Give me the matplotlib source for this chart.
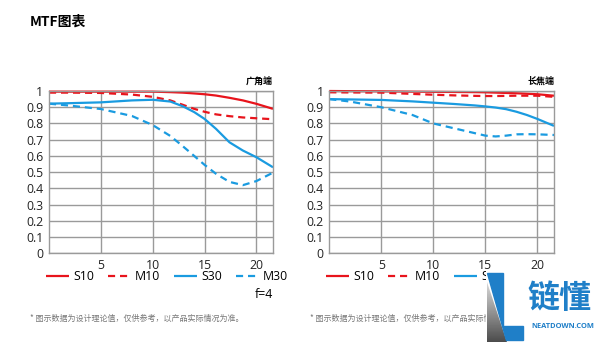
import matplotlib
matplotlib.use('Agg')
import matplotlib.pyplot as plt
from matplotlib.patches import Polygon
import numpy as np

plt.rcParams['font.family'] = ['Open Sans', 'Noto Sans CJK SC', 'DejaVu Sans']

RED = '#e8141c'
BLUE = '#1a9be0'
GRID = '#9a9a9a'
LOGO_BLUE = '#1f7fc8'

# image height (mm from centre)
wide_x = [0, 2, 5, 8, 10, 11.7, 12.9, 14, 15, 16.1, 17.4, 18.7, 20, 21.6]
wide_s10 = [0.996, 0.996, 0.996, 0.996, 0.996, 0.993, 0.99, 0.985, 0.98, 0.972, 0.958, 0.942, 0.921, 0.89]
wide_m10 = [0.99, 0.99, 0.988, 0.978, 0.964, 0.942, 0.915, 0.89, 0.872, 0.856, 0.845, 0.837, 0.832, 0.826]
wide_s30 = [0.922, 0.925, 0.93, 0.942, 0.946, 0.935, 0.906, 0.87, 0.828, 0.767, 0.684, 0.633, 0.592, 0.53]
wide_m30 = [0.922, 0.91, 0.889, 0.846, 0.79, 0.723, 0.66, 0.6, 0.545, 0.49, 0.44, 0.42, 0.445, 0.497]

tele_x = [0, 2, 5, 8, 10, 12, 14, 15, 16, 17, 18, 19, 20, 21.6]
tele_s10 = [1.0, 0.999, 0.998, 0.996, 0.995, 0.994, 0.993, 0.992, 0.99, 0.988, 0.986, 0.983, 0.98, 0.971]
tele_m10 = [0.992, 0.991, 0.99, 0.982, 0.977, 0.973, 0.97, 0.969, 0.969, 0.97, 0.971, 0.971, 0.971, 0.964]
tele_s30 = [0.95, 0.948, 0.945, 0.936, 0.928, 0.92, 0.911, 0.905, 0.898, 0.888, 0.872, 0.852, 0.828, 0.785]
tele_m30 = [0.95, 0.935, 0.9, 0.852, 0.8, 0.77, 0.74, 0.725, 0.72, 0.725, 0.733, 0.734, 0.733, 0.729]

y_ticks = [0, 0.1, 0.2, 0.3, 0.4, 0.5, 0.6, 0.7, 0.8, 0.9, 1]
y_labels = ['0', '0.1', '0.2', '0.3', '0.4', '0.5', '0.6', '0.7', '0.8', '0.9', '1']
x_ticks = [5, 10, 15, 20]
series_names = ['S10', 'M10', 'S30', 'M30']

W, H = 600, 342
fig = plt.figure(figsize=(6, 3.42), dpi=100)


def px_axes(left, top, right, bottom, **kw):
    return fig.add_axes([left / W, 1 - bottom / H, (right - left) / W, (bottom - top) / H], **kw)


def mtf_panel(ax, xs, s10, m10, s30, m30, label):
    ax.set_xlim(0, 21.6)
    ax.set_ylim(0, 1)
    ax.set_xticks(x_ticks)
    ax.set_yticks(y_ticks)
    ax.set_yticklabels(y_labels)
    ax.grid(True, color=GRID, lw=1.0)
    ax.set_axisbelow(True)
    for s in ax.spines.values():
        s.set_color(GRID)
        s.set_linewidth(1.0)
    ax.tick_params(length=0, labelsize=8.8, pad=4, colors='#222222')
    lines = []
    lines += ax.plot(xs, s10, color=RED, lw=1.6, solid_capstyle='butt')
    lines += ax.plot(xs, m10, color=RED, lw=1.6, ls=(0, (3.2, 2.2)))
    lines += ax.plot(xs, s30, color=BLUE, lw=1.6, solid_capstyle='butt')
    lines += ax.plot(xs, m30, color=BLUE, lw=1.6, ls=(0, (3.2, 2.2)))
    for ln in lines:
        ln.set_clip_on(False)
    ax.text(1.0, 1.035, label, transform=ax.transAxes, ha='right', va='bottom',
            fontsize=6.5, fontweight='bold', family=['Noto Sans CJK SC'])
    return lines


axL = px_axes(49, 91, 273, 253.3)
linesL = mtf_panel(axL, wide_x, wide_s10, wide_m10, wide_s30, wide_m30, '广角端')
axR = px_axes(329.3, 91, 554, 253.3)
linesR = mtf_panel(axR, tele_x, tele_s10, tele_m10, tele_s30, tele_m30, '长焦端')

for ax, lines, x0 in ((axL, linesL, 46), (axR, linesR, 326)):
    fig.legend(lines, series_names, loc='center left', bbox_to_anchor=(x0 / W, 1 - 277 / H),
               ncol=4, frameon=False, fontsize=8.8, handlelength=1.9, handletextpad=0.3,
               columnspacing=1.15, borderpad=0, borderaxespad=0)

fig.text(30 / W, 1 - 22 / H, 'MTF图表', fontsize=10, fontweight='bold', va='center',
         family=['Noto Sans CJK SC'])
fig.text(273 / W, 1 - 295 / H, 'f=4', fontsize=8.8, ha='right', va='center')
note = '* 图示数据为设计理论值，仅供参考，以产品实际情况为准。'
for x0 in (30, 310):
    fig.text(x0 / W, 1 - 318 / H, note, fontsize=5.8, color='#777777', va='center',
             family=['Noto Sans CJK SC'])

# site logo in the lower right corner, drawn in pixel units
lg = px_axes(486, 270, 600, 342, zorder=10)
lg.axis('off')
lg.add_patch(plt.Rectangle((486, 270), 114, 72, color='white', zorder=1))
grey = Polygon([(487, 282), (487, 342), (507, 342)], closed=True, facecolor='none',
               edgecolor='none')
lg.add_patch(grey)
shade = np.linspace(0.85, 0.3, 60).reshape(-1, 1)
im = lg.imshow(shade, cmap='gray', vmin=0, vmax=1, extent=(487, 507, 342, 282),
               aspect='auto', zorder=2)
im.set_clip_path(grey)
lg.add_patch(Polygon([(487, 273), (503, 273), (503, 326), (523, 326), (523, 340),
                      (506, 340)], closed=True, color=LOGO_BLUE, zorder=3))
lg.text(527, 299, '链懂', fontsize=23, fontweight='bold', color=LOGO_BLUE,
        va='center', family=['Noto Sans CJK SC'], zorder=4)
lg.text(531, 326, 'NEATDOWN.COM', fontsize=5.4, fontweight='bold',
        color=LOGO_BLUE, va='center', zorder=4)
lg.set_xlim(486, 600)
lg.set_ylim(342, 270)

fig.savefig('out.png', dpi=100, facecolor='white')
